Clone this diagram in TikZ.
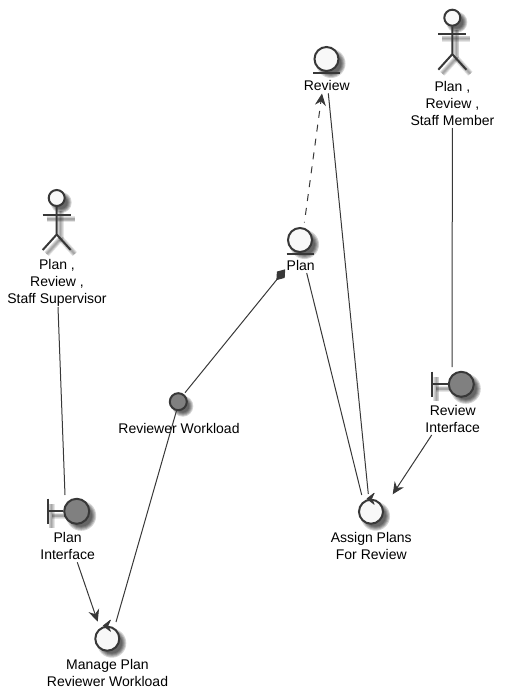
\documentclass[tikz,border=0pt]{standalone}
\usepackage{fontspec}
\setmainfont{Liberation Sans}
\usetikzlibrary{arrows.meta,calc}
\definecolor{ink}{HTML}{383838}
\definecolor{paper}{HTML}{F8F8F8}
\definecolor{solidgrey}{HTML}{808080}
\tikzset{
  lbl/.style={inner sep=0pt,align=center,text=black,font=\fontsize{14}{17}\selectfont},
  icon/.style={circle,draw=ink,line width=2pt,inner sep=0pt,minimum size=#1},
  stroke/.style={draw=ink,line width=2pt},
  conn/.style={draw=ink,line width=1pt},
  head/.style={-{Stealth[length=12pt,width=11pt,inset=4pt]}},
  dia/.style={-{Diamond[length=14pt,width=10pt,fill=ink]}},
  shadowpt/.style={black,opacity=0.17}
}
% soft shadow of a circle: centre x,y and radius
\newcommand{\softdisc}[3]{%
  \foreach \d in {2.5,1.5,0.5,-0.5,-1.5}{\fill[shadowpt] (#1+4.5,#2+4.5) circle[radius=#3+\d];}}
% soft shadow of a straight stroke
\newcommand{\softline}[4]{%
  \foreach \w in {6,4.5,3,1.5}{\draw[black,opacity=0.1,line width=\w pt] (#1+4,#2+4.5) -- (#3+4,#4+4.5);}}
\newcommand{\actorfig}[3]{% name, head x, head y
  \softdisc{#2}{#3}{8}
  \softline{#2-14}{#3+16.5}{#2+14}{#3+16.5}
  \softline{#2}{#3+8}{#2}{#3+36}
  \softline{#2}{#3+36}{#2-14}{#3+51.5}
  \softline{#2}{#3+36}{#2+14}{#3+51.5}
  \node[icon=16pt,fill=paper] (#1) at (#2,#3) {};
  \draw[stroke] (#1.south) -- ++(0,27.5) coordinate (#1hip) -- ++(-14,15.5);
  \draw[stroke] (#1hip) -- ++(14,15.5);
  \draw[stroke] ($(#1)+(-14,16.5)$) -- ($(#1)+(14,16.5)$);
}
\newcommand{\entityfig}[3]{% name, x, y
  \softdisc{#2}{#3}{12}
  \node[icon=24pt,fill=paper] (#1) at (#2,#3) {};
  \draw[stroke] ($(#1)+(-13.5,13.7)$) -- ($(#1)+(13.5,13.7)$);
}
\newcommand{\boundaryfig}[3]{% name, x, y of the disc
  \softline{#2-29}{#3-12}{#2-29}{#3+12}
  \softline{#2-29}{#3}{#2-12}{#3}
  \softdisc{#2}{#3}{12.5}
  \node[icon=25pt,fill=solidgrey] (#1) at (#2,#3) {};
  \draw[stroke] ($(#1)+(-29,-12.7)$) -- ($(#1)+(-29,12.7)$);
  \draw[stroke] ($(#1)+(-29,0)$) -- (#1.west);
}
\newcommand{\controlfig}[3]{% name, x, y
  \softdisc{#2}{#3}{12}
  \node[icon=24pt,fill=paper] (#1) at (#2,#3) {};
  \filldraw[ink,line width=0.7pt,line join=round] ($(#1)+(-4,-13)$) -- ($(#1)+(3.2,-18.6)$) -- ($(#1)+(0.6,-13)$) -- ($(#1)+(3.2,-7.4)$) -- cycle;
}
\begin{document}
\begin{tikzpicture}[x=1pt,y=-1pt]
\useasboundingbox (0,0) rectangle (505,698);
% participants
\actorfig{member}{452.3}{17.7}
\node[lbl] (memberT) at (452.4,103) {Plan ,\\Review ,\\Staff Member};
\actorfig{super}{56.7}{198}
\node[lbl] (superT) at (57,283) {Plan ,\\Review ,\\Staff Supervisor};
\entityfig{review}{326.5}{59}
\node[lbl] (reviewT) at (326.7,85) {Review};
\entityfig{plan}{300}{240}
\node[lbl] (planT) at (300.7,265) {Plan};
\boundaryfig{rif}{461.3}{384.3}
\node[lbl] (rifT) at (452.7,418.5) {Review\\Interface};
\boundaryfig{pif}{76.7}{511.3}
\node[lbl] (pifT) at (67.6,545.5) {Plan\\Interface};
\controlfig{assign}{371}{511.7}
\node[lbl] (assignT) at (371.3,545.5) {Assign Plans\\For Review};
\controlfig{manage}{107.3}{638.7}
\node[lbl] (manageT) at (107.5,672.5) {Manage Plan\\Reviewer Workload};
\softdisc{178.3}{401.7}{8}
\node[icon=17pt,fill=solidgrey] (load) at (178.3,401.7) {};
\node[lbl] (loadT) at (179,428) {Reviewer Workload};
% connectors
\draw[conn] ($(memberT)+(0,25)$) -- ($(rif)+(-9.3,-17.3)$);
\draw[conn] ($(superT)+(1,24)$) -- ($(pif)+(-11.7,-16.3)$);
\draw[conn,head] ($(rifT)+(-21,16.5)$) -- ($(assign)+(21.7,-17.4)$);
\draw[conn,head] ($(pifT)+(9.7,16.8)$) -- ($(manage)+(-9.6,-17)$);
\draw[conn,head,dash pattern=on 7pt off 7pt,dash phase=6.3pt] ($(plan)+(4.4,-17.5)$) -- ($(reviewT)+(-4.7,8.5)$);
\draw[conn] ($(reviewT)+(1.6,8.3)$) -- ($(assign)+(-2.7,-17.7)$);
\draw[conn] ($(planT)+(6,8)$) -- ($(assign)+(-9.3,-16.7)$);
\draw[conn,dia] ($(load)+(6.7,-9)$) -- ($(planT)+(-15.5,4.3)$);
\draw[conn] ($(load)+(-1.6,8.3)$) -- ($(manage)+(8.7,-16.7)$);
\end{tikzpicture}
\end{document}
